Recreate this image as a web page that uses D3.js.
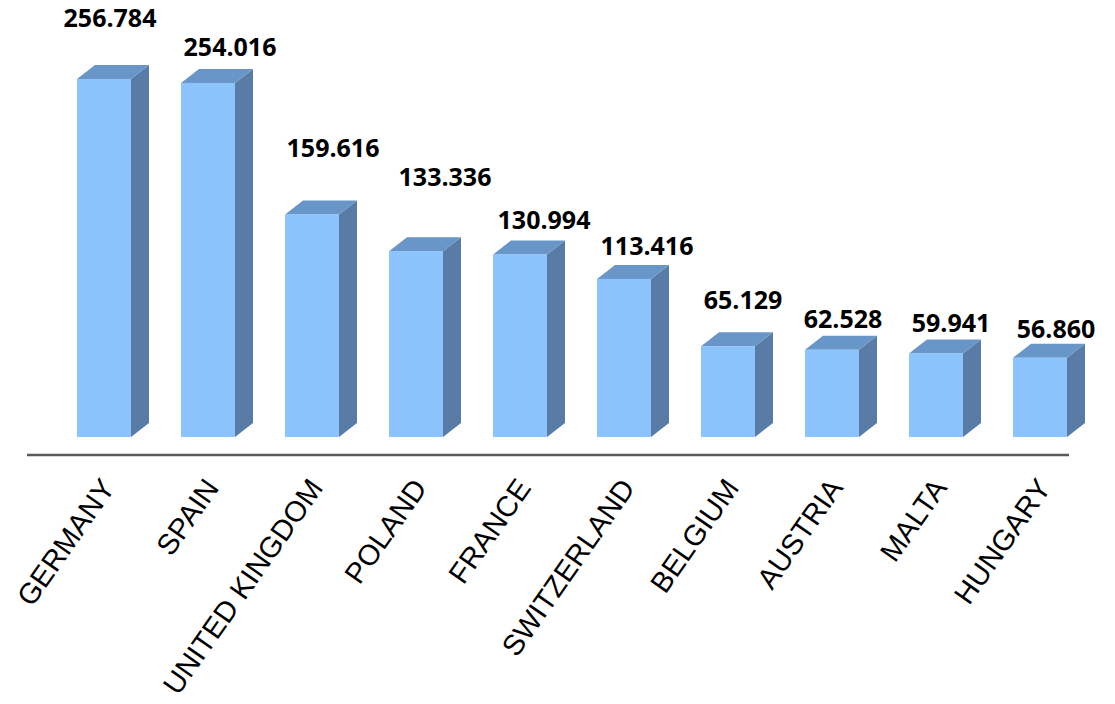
<!DOCTYPE html>
<html>
<head>
<meta charset="utf-8">
<script src="https://cdn.jsdelivr.net/npm/d3@7"></script>
<style>
  body { margin: 0; background: #fff; }
</style>
</head>
<body>
<div class="chart"></div>
<script>
// data
var countries = ["GERMANY", "SPAIN", "UNITED KINGDOM", "POLAND", "FRANCE",
                 "SWITZERLAND", "BELGIUM", "AUSTRIA", "MALTA", "HUNGARY"];
var values = [256.784, 254.016, 159.616, 133.336, 130.994,
              113.416, 65.129, 62.528, 59.941, 56.860];
var valueLabels = ["256.784", "254.016", "159.616", "133.336", "130.994",
                   "113.416", "65.129", "62.528", "59.941", "56.860"];

// label nudges (px) - the original labels were placed by hand
var labelLift = [52, 27, 57, 65, 25, 24, 37, 22, 21, 20];
var labelShift = [6, 22, 21, 29, 24, 23, 15, 11, 15, 16];

var width = 1115,
    height = 704,
    baseY = 437,
    depthX = 18,
    depthY = 14;

var data = countries.map(function(c, i) {
  return { name: c, value: values[i], label: valueLabels[i], lift: labelLift[i], shift: labelShift[i] };
});

var svg = d3.select(".chart").append("svg")
    .attr("width", width)
    .attr("height", height);

var x = d3.scaleBand()
    .domain(countries)
    .range([52, 1092])
    .paddingInner(50 / 104)
    .paddingOuter(25 / 104);

var y = d3.scaleLinear()
    .domain([0, 250])
    .range([baseY, baseY - 348.5]);

var bw = x.bandwidth();

var bars = svg.selectAll("g.bar")
    .data(data)
  .enter().append("g")
    .attr("class", "bar");

// side face
bars.append("path")
    .attr("fill", "#587ca5")
    .attr("d", function(d) {
      var x1 = x(d.name) + bw, yt = y(d.value);
      return "M" + x1 + "," + baseY +
             "L" + (x1 + depthX) + "," + (baseY - depthY) +
             "L" + (x1 + depthX) + "," + (yt - depthY) +
             "L" + x1 + "," + yt + "Z";
    });

// top face
bars.append("path")
    .attr("fill", "#6996c9")
    .attr("d", function(d) {
      var x0 = x(d.name), yt = y(d.value);
      return "M" + x0 + "," + yt +
             "L" + (x0 + depthX) + "," + (yt - depthY) +
             "L" + (x0 + bw + depthX) + "," + (yt - depthY) +
             "L" + (x0 + bw) + "," + yt + "Z";
    });

// front face
bars.append("rect")
    .attr("fill", "#8bc3fc")
    .attr("x", function(d) { return x(d.name); })
    .attr("y", function(d) { return y(d.value); })
    .attr("width", bw)
    .attr("height", function(d) { return baseY - y(d.value); });

// value labels
svg.selectAll("text.value")
    .data(data)
  .enter().append("text")
    .attr("class", "value")
    .attr("text-anchor", "middle")
    .attr("x", function(d) { return x(d.name) + bw / 2 + d.shift; })
    .attr("y", function(d) { return y(d.value) - d.lift; })
    .style("font-family", "'Open Sans', sans-serif")
    .style("font-weight", "bold")
    .style("font-size", "25px")
    .style("fill", "#000")
    .text(function(d) { return d.label; });

// axis line
svg.append("line")
    .attr("x1", 27)
    .attr("x2", 1069)
    .attr("y1", 455)
    .attr("y2", 455)
    .attr("stroke", "#5a5a5a")
    .attr("stroke-width", 2.5);

// category labels, slanted
svg.selectAll("text.cat")
    .data(data)
  .enter().append("text")
    .attr("class", "cat")
    .attr("text-anchor", "end")
    .attr("transform", function(d) {
      return "translate(" + (x(d.name) + bw / 2 + 12) + ",488) rotate(-55)";
    })
    .style("font-family", "'Liberation Sans', Arial, sans-serif")
    .style("font-size", "29px")
    .style("fill", "#000")
    .text(function(d) { return d.name; });
</script>
</body>
</html>
